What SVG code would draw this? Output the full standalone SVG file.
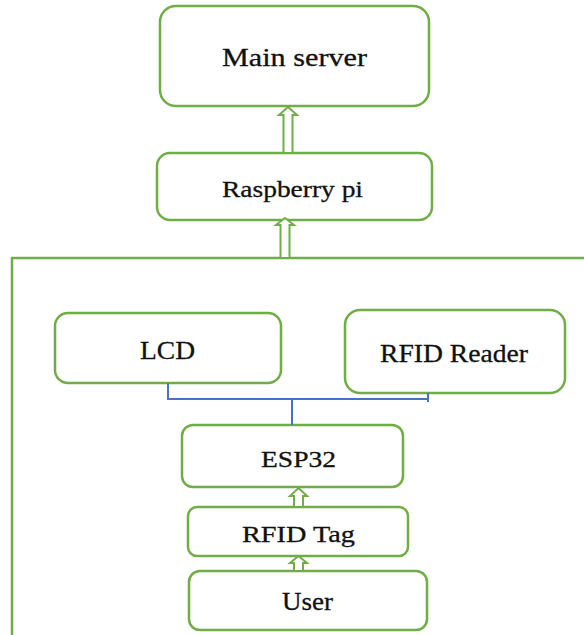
<svg xmlns="http://www.w3.org/2000/svg" width="584" height="635" viewBox="0 0 584 635">
<style>
.box{fill:#fff;stroke:#70AD47;stroke-width:2.5}
.arr{fill:#fff;stroke:#70AD47;stroke-width:2;stroke-linejoin:miter}
.wire{fill:none;stroke:#4472C4;stroke-width:2}
.t{fill:#111;stroke:#111;stroke-width:0.3;text-anchor:middle}
</style>
<rect width="584" height="635" fill="#fff"/>
<g id="container">
<path d="M12,635 V258 H584" fill="none" stroke="#70AD47" stroke-width="2.5"/>
</g>
<g font-family="Liberation Serif, Times New Roman, serif">
<g id="main-server">
<rect class="box" x="160" y="6" width="269" height="100" rx="16"/>
<text class="t" x="294.5" y="66" font-size="25" textLength="145" lengthAdjust="spacingAndGlyphs">Main server</text>
</g>
<g id="raspberry-pi">
<rect class="box" x="157" y="153" width="275" height="67" rx="13"/>
<text class="t" x="292.5" y="197" font-size="24" textLength="141" lengthAdjust="spacingAndGlyphs">Raspberry pi</text>
</g>
<g id="lcd">
<rect class="box" x="55" y="313" width="226" height="70" rx="13"/>
<text class="t" x="167.5" y="359" font-size="26" textLength="55" lengthAdjust="spacingAndGlyphs">LCD</text>
</g>
<g id="rfid-reader">
<rect class="box" x="345" y="310" width="220" height="83" rx="15"/>
<text class="t" x="454" y="362" font-size="25" textLength="148" lengthAdjust="spacingAndGlyphs">RFID Reader</text>
</g>
<g id="esp32">
<rect class="box" x="182" y="425" width="221" height="62" rx="11"/>
<text class="t" x="298.5" y="467" font-size="23" textLength="75" lengthAdjust="spacingAndGlyphs">ESP32</text>
</g>
<g id="rfid-tag">
<rect class="box" x="188" y="507" width="220" height="49" rx="9"/>
<text class="t" x="298.5" y="542" font-size="23" textLength="113" lengthAdjust="spacingAndGlyphs">RFID Tag</text>
</g>
<g id="user">
<rect class="box" x="189" y="571" width="238" height="59" rx="11"/>
<text class="t" x="307.5" y="610" font-size="25" textLength="51" lengthAdjust="spacingAndGlyphs">User</text>
</g>
</g>
<g id="connectors">
<path class="arr" d="M288,107 L297,115 L292.5,115 L292.5,153 L283.5,153 L283.5,115 L279,115 Z"/>
<path class="arr" d="M285,218 L294,225 L289.5,225 L289.5,258 L280.5,258 L280.5,225 L276,225 Z"/>
<path class="arr" d="M298.5,488 L307,496 L303,496 L303,507 L294,507 L294,496 L290,496 Z"/>
<path class="arr" d="M298.5,556 L307,563 L303,563 L303,571 L294,571 L294,563 L290,563 Z"/>
<path class="wire" d="M168,383 V399 H429"/>
<path class="wire" d="M428,393 V402"/>
<path class="wire" d="M292,399 V425"/>
</g>
</svg>
